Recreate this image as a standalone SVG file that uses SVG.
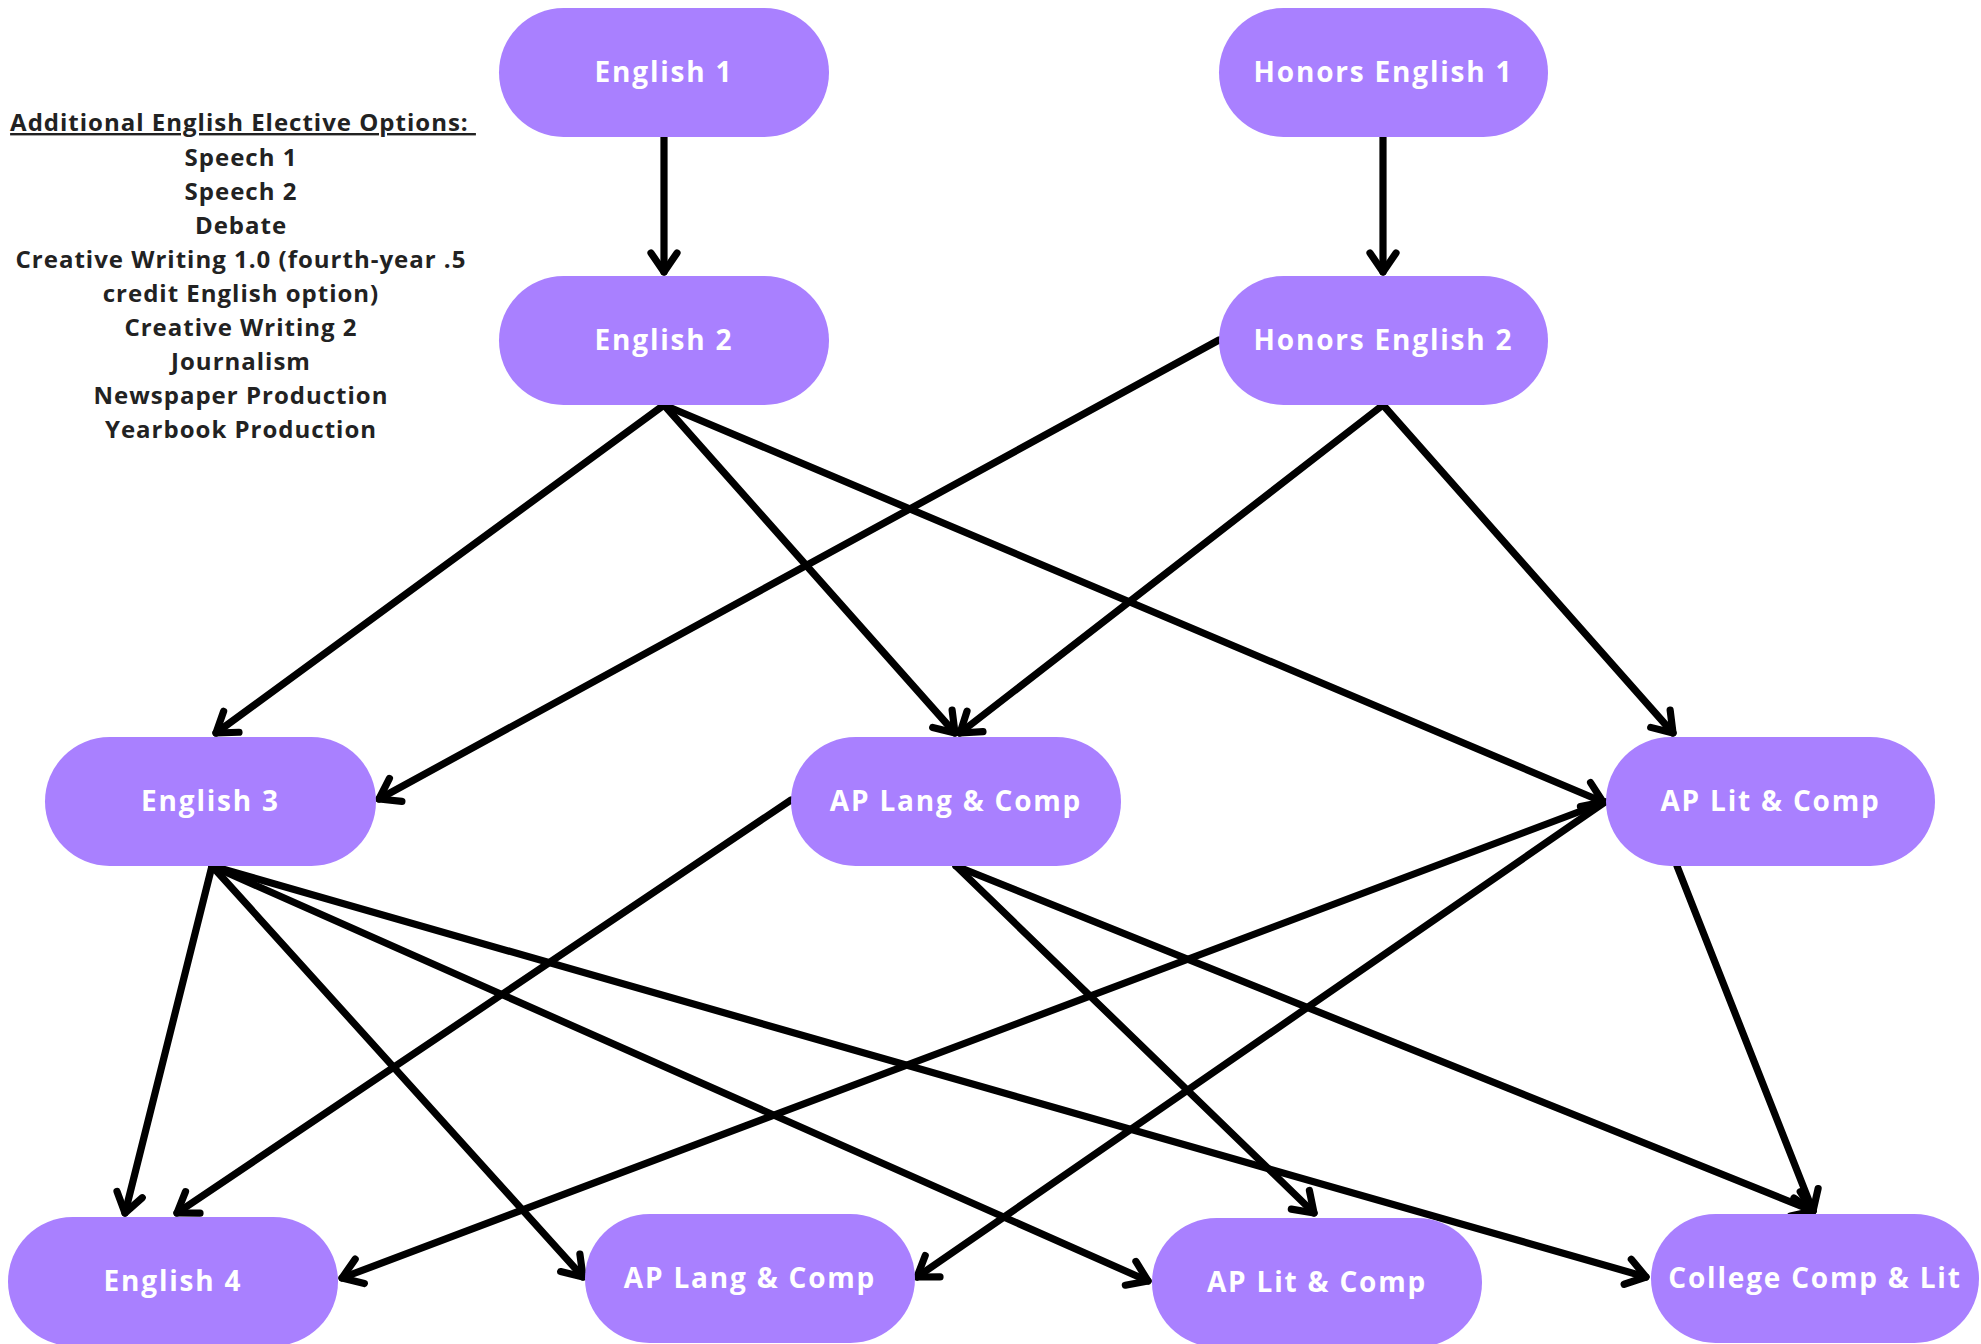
<svg xmlns="http://www.w3.org/2000/svg" width="1981" height="1344" viewBox="0 0 1981 1344">
<style>
.node rect{fill:#a980ff;}
.node text{fill:#ffffff;font-family:"Open Sans","Liberation Sans",sans-serif;font-weight:700;font-size:28px;letter-spacing:1.8px;text-anchor:middle;}
.conn line{stroke:#000;stroke-width:7.2;stroke-linecap:round;marker-end:url(#ah);}
.notes text{fill:#222;font-family:"Open Sans","Liberation Sans",sans-serif;font-weight:700;font-size:24px;letter-spacing:1px;text-anchor:middle;}
</style>
<defs>
<marker id="ah" viewBox="-30 -20 40 40" markerWidth="40" markerHeight="40" refX="0" refY="0" orient="auto" markerUnits="userSpaceOnUse" overflow="visible">
<path d="M-19,-13 L0,0 L-19,13" fill="none" stroke="#000" stroke-width="7.2" stroke-linecap="round" stroke-linejoin="round"/>
</marker>
</defs>
<rect width="1981" height="1344" fill="#ffffff"/>
<g id="notes" class="notes">
<text x="243" y="131" xml:space="preserve" text-decoration="underline">Additional English Elective Options: </text>
<text x="241" y="165.5">Speech 1</text>
<text x="241" y="199.5">Speech 2</text>
<text x="241" y="233.5">Debate</text>
<text x="241" y="268">Creative Writing 1.0 (fourth-year .5</text>
<text x="241" y="302">credit English option)</text>
<text x="241" y="335.5">Creative Writing 2</text>
<text x="241" y="369.5">Journalism</text>
<text x="241" y="403.5">Newspaper Production</text>
<text x="241" y="437.5">Yearbook Production</text>
</g>
<g id="connectors" class="conn">
<line x1="664" y1="137" x2="664" y2="272"/>
<line x1="1383" y1="137" x2="1383" y2="272"/>
<line x1="664" y1="405" x2="216" y2="733"/>
<line x1="664" y1="405" x2="955" y2="733"/>
<line x1="664" y1="405" x2="1603" y2="802"/>
<line x1="1219" y1="340" x2="379" y2="799"/>
<line x1="1383" y1="405" x2="960" y2="733"/>
<line x1="1383" y1="405" x2="1673" y2="733"/>
<line x1="212" y1="866" x2="125" y2="1213"/>
<line x1="212" y1="866" x2="583" y2="1277"/>
<line x1="212" y1="866" x2="1148" y2="1281"/>
<line x1="212" y1="866" x2="1646" y2="1277"/>
<line x1="791" y1="800" x2="177" y2="1213"/>
<line x1="956" y1="866" x2="1314" y2="1213"/>
<line x1="956" y1="866" x2="1813" y2="1211"/>
<line x1="1605" y1="802" x2="342" y2="1278"/>
<line x1="1605" y1="802" x2="917" y2="1277"/>
<line x1="1677" y1="866" x2="1813" y2="1211"/>
</g>
<g id="english1" class="node"><rect x="499" y="8" width="330" height="129" rx="64.5"/><text x="664" y="82">English 1</text></g>
<g id="honors1" class="node"><rect x="1219" y="8" width="329" height="129" rx="64.5"/><text x="1383.5" y="82">Honors English 1</text></g>
<g id="english2" class="node"><rect x="499" y="276" width="330" height="129" rx="64.5"/><text x="664" y="350">English 2</text></g>
<g id="honors2" class="node"><rect x="1219" y="276" width="329" height="129" rx="64.5"/><text x="1383.5" y="350">Honors English 2</text></g>
<g id="english3" class="node"><rect x="45" y="737" width="331" height="129" rx="64.5"/><text x="210.5" y="811">English 3</text></g>
<g id="aplang1" class="node"><rect x="791" y="737" width="330" height="129" rx="64.5"/><text x="956" y="811">AP Lang &amp; Comp</text></g>
<g id="aplit1" class="node"><rect x="1606" y="737" width="329" height="129" rx="64.5"/><text x="1770.5" y="811">AP Lit &amp; Comp</text></g>
<g id="english4" class="node"><rect x="8" y="1217" width="330" height="129" rx="64.5"/><text x="173" y="1291">English 4</text></g>
<g id="aplang2" class="node"><rect x="585" y="1214" width="330" height="129" rx="64.5"/><text x="750" y="1288">AP Lang &amp; Comp</text></g>
<g id="aplit2" class="node"><rect x="1152" y="1218" width="330" height="129" rx="64.5"/><text x="1317" y="1292">AP Lit &amp; Comp</text></g>
<g id="college" class="node"><rect x="1651" y="1214" width="328" height="129" rx="64.5"/><text x="1815" y="1288">College Comp &amp; Lit</text></g>
</svg>
